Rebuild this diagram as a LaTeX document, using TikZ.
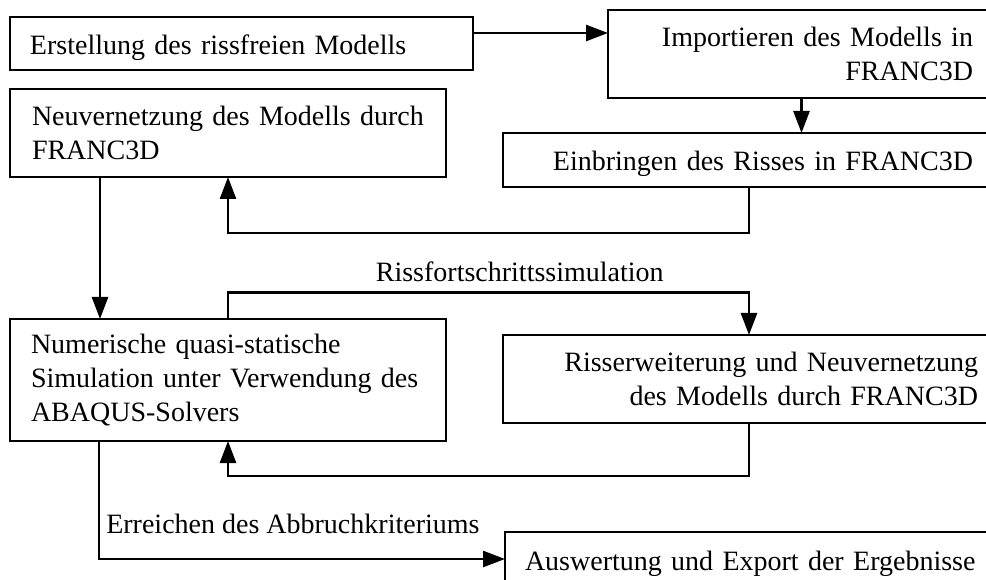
\documentclass[tikz,border=0pt]{standalone}
\usepackage{fontspec}
\setmainfont{Liberation Serif}
\usetikzlibrary{arrows.meta,positioning,calc}

\begin{document}
\begin{tikzpicture}[x=1pt,y=-1pt,
   font=\fontsize{28}{34}\selectfont,line width=2.6pt,
   arr/.style={-{Triangle[length=22pt,width=16pt]}},
   stepbox/.style={draw,anchor=north west,outer sep=0pt,inner ysep=0pt},
   leftbox/.style={stepbox,align=left,inner xsep=20pt},
   rightbox/.style={stepbox,align=right,inner xsep=22pt},
   oneline/.style={text height=22pt,text depth=0pt}]
  \useasboundingbox (0,0) rectangle (986,580);
  \clip (0,0) rectangle (986,580);
  % boxes (right column runs past the page edge)
  \node[leftbox,oneline,text width=423pt,minimum height=53pt] (erstellung) at (10,17)
       {Erstellung des rissfreien Modells};
  \node[rightbox,text width=343pt,minimum height=88pt] (import) at (608,10)
       {Importieren des Modells in\\FRANC3D};
  \node[rightbox,oneline,text width=448pt,minimum height=54pt] (einbringen) at (503,133)
       {Einbringen des Risses in FRANC3D};
  \node[leftbox,inner xsep=22pt,text width=392pt,minimum height=88pt] (neuvernetzung) at (10,89)
       {Neuvernetzung des Modells durch\\FRANC3D};
  \node[leftbox,inner xsep=21pt,text width=394pt,minimum height=122pt] (simulation) at (10,319)
       {Numerische quasi-statische\\Simulation unter Verwendung des\\ABAQUS-Solvers};
  \node[rightbox,inner xsep=17pt,text width=458pt,minimum height=88pt] (risserweiterung) at (503,335)
       {Risserweiterung und Neuvernetzung\\des Modells durch FRANC3D};
  \node[leftbox,oneline,text width=480pt,minimum height=54pt] (auswertung) at (505,532)
       {Auswertung und Export der Ergebnisse};
  % connectors
  \draw[arr] ([yshift=10.5pt]erstellung.east) -- ([yshift=10.5pt]erstellung.east -| import.west);
  \draw[arr] (import.south) -- (import.south |- einbringen.north);
  \draw[arr] (einbringen.south) -- ++(0,46) -| (neuvernetzung.south);
  \draw[arr] ([xshift=90pt]neuvernetzung.south west) -- ([xshift=90pt]simulation.north west);
  \draw[arr] (simulation.north) -- ++(0,-26.5) -| node[pos=0.28,above,inner sep=9.5pt] (lblfortschritt)
       {Rissfortschrittssimulation} (risserweiterung.north);
  \draw[arr] (risserweiterung.south) -- ++(0,53) -| (simulation.south);
  \draw[arr] ([xshift=89pt]simulation.south west) |- (auswertung.west);
  \node[anchor=base west,inner sep=0pt] (lblabbruch) at ($(simulation.south west)+(95,92)$)
       {Erreichen des Abbruchkriteriums};
\end{tikzpicture}
\end{document}
